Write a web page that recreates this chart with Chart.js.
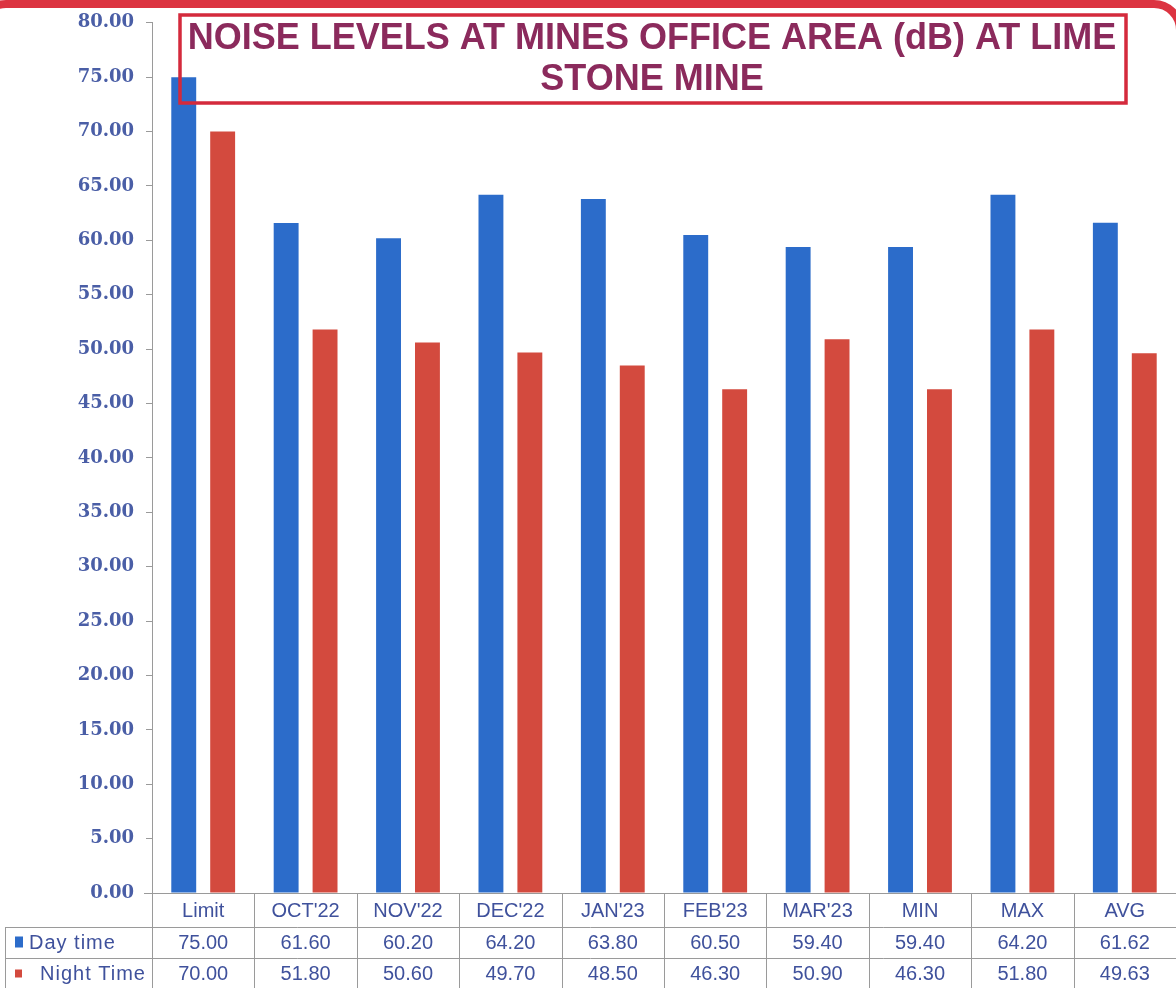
<!DOCTYPE html>
<html>
<head>
<meta charset="utf-8">
<script src="https://cdn.jsdelivr.net/npm/chart.js@4.4.1/dist/chart.umd.min.js"></script>
<style>
  html, body { margin: 0; padding: 0; background: #ffffff; }
  canvas { display: block; }
</style>
</head>
<body>
<canvas id="noiseChart" width="1176" height="988"></canvas>
<script>
// Chart data
const categories = ["Limit", "OCT'22", "NOV'22", "DEC'22", "JAN'23", "FEB'23", "MAR'23", "MIN", "MAX", "AVG"];
const dayTime = [75.0, 61.6, 60.2, 64.2, 63.8, 60.5, 59.4, 59.4, 64.2, 61.62];
const nightTime = [70.0, 51.8, 50.6, 49.7, 48.5, 46.3, 50.9, 46.3, 51.8, 49.63];
const seriesNames = ["Day time", "Night Time"];
const titleLines = ["NOISE LEVELS AT MINES OFFICE AREA (dB) AT LIME", "STONE MINE"];

const BLUE = "#2c6cca";
const RED = "#d34a3e";
const TEXT_BLUE = "#3f519c";
const GRID = "#9a9a9a";

/**
 * Draws the data table under the plot, the title box and the frame
 */
const tablePlugin = {
  id: "dataTable",
  afterDraw(chart) {
    const ctx = chart.ctx;
    const area = chart.chartArea;
    const x = chart.scales.x;
    const y = chart.scales.y;
    const n = categories.length;
    const colW = (area.right - area.left) / n;
    const base = y.getPixelForValue(0);
    const row1 = base + 34;
    const row2 = row1 + 31;
    const row3 = row2 + 31;

    ctx.save();
    ctx.strokeStyle = GRID;
    ctx.lineWidth = 1;

    // baseline and row lines
    ctx.beginPath();
    ctx.moveTo(area.left - 8, base + 0.5);
    ctx.lineTo(area.right, base + 0.5);
    ctx.moveTo(5, row1 + 0.5);
    ctx.lineTo(area.right, row1 + 0.5);
    ctx.moveTo(5, row2 + 0.5);
    ctx.lineTo(area.right, row2 + 0.5);
    ctx.moveTo(5.5, row1);
    ctx.lineTo(5.5, row3);
    for (let i = 0; i <= n; i++) {
      const bx = Math.round(area.left + i * colW) + 0.5;
      ctx.moveTo(bx, base);
      ctx.lineTo(bx, row3);
    }
    ctx.stroke();

    // category labels and values
    ctx.fillStyle = TEXT_BLUE;
    ctx.font = "20px 'Liberation Sans', Arial, sans-serif";
    ctx.textAlign = "center";
    ctx.textBaseline = "middle";
    categories.forEach((c, i) => {
      const cx = x.getPixelForTick(i);
      ctx.fillText(c, cx, (base + row1) / 2 + 1);
      ctx.fillText(dayTime[i].toFixed(2), cx, (row1 + row2) / 2 + 1);
      ctx.fillText(nightTime[i].toFixed(2), cx, (row2 + row3) / 2 + 1);
    });

    // legend keys
    ctx.textAlign = "left";
    ctx.fillStyle = BLUE;
    ctx.fillRect(15, (row1 + row2) / 2 - 6, 8, 11);
    ctx.fillStyle = RED;
    ctx.fillRect(15, (row2 + row3) / 2 - 4, 7, 8);
    ctx.fillStyle = TEXT_BLUE;
    ctx.letterSpacing = "1px";
    ctx.fillText(seriesNames[0], 29, (row1 + row2) / 2 + 1);
    ctx.fillText(seriesNames[1], 40, (row2 + row3) / 2 + 1);
    ctx.letterSpacing = "0px";

    // title box
    ctx.strokeStyle = "#d42a3c";
    ctx.lineWidth = 3.5;
    ctx.strokeRect(180, 15, 946, 88);
    ctx.fillStyle = "#8b2a5c";
    ctx.font = "bold 36px 'Liberation Sans', Arial, sans-serif";
    ctx.textAlign = "center";
    ctx.fillText(titleLines[0], 652, 39);
    ctx.fillText(titleLines[1], 652, 80);

    // outer frame
    ctx.strokeStyle = "#dc3441";
    ctx.lineWidth = 8;
    ctx.beginPath();
    ctx.roundRect(-20, 4, 1200, 1100, 26);
    ctx.stroke();
    ctx.restore();
  },
};

new Chart(document.getElementById("noiseChart"), {
  type: "bar",
  data: {
    labels: categories,
    datasets: [
      {
        label: seriesNames[0],
        data: dayTime,
        backgroundColor: BLUE,
        categoryPercentage: 0.76,
        barPercentage: 0.64,
      },
      {
        label: seriesNames[1],
        data: nightTime,
        backgroundColor: RED,
        categoryPercentage: 0.76,
        barPercentage: 0.64,
      },
    ],
  },
  options: {
    responsive: false,
    animation: false,
    layout: {
      padding: { top: 22, bottom: 95, left: 0, right: 0 },
    },
    plugins: {
      legend: { display: false },
      tooltip: { enabled: false },
    },
    scales: {
      x: {
        display: false,
      },
      y: {
        min: 0,
        max: 80,
        afterFit(scale) {
          scale.width = 152;
        },
        ticks: {
          stepSize: 5,
          padding: 12,
          color: "#4a5ea6",
          font: { family: "'DejaVu Serif', serif", size: 18, weight: "bold" },
          callback: (v) => Number(v).toFixed(2),
        },
        grid: {
          drawOnChartArea: false,
          tickLength: 6,
          color: GRID,
        },
        border: { color: GRID },
      },
    },
  },
  plugins: [tablePlugin],
});
</script>
</body>
</html>
